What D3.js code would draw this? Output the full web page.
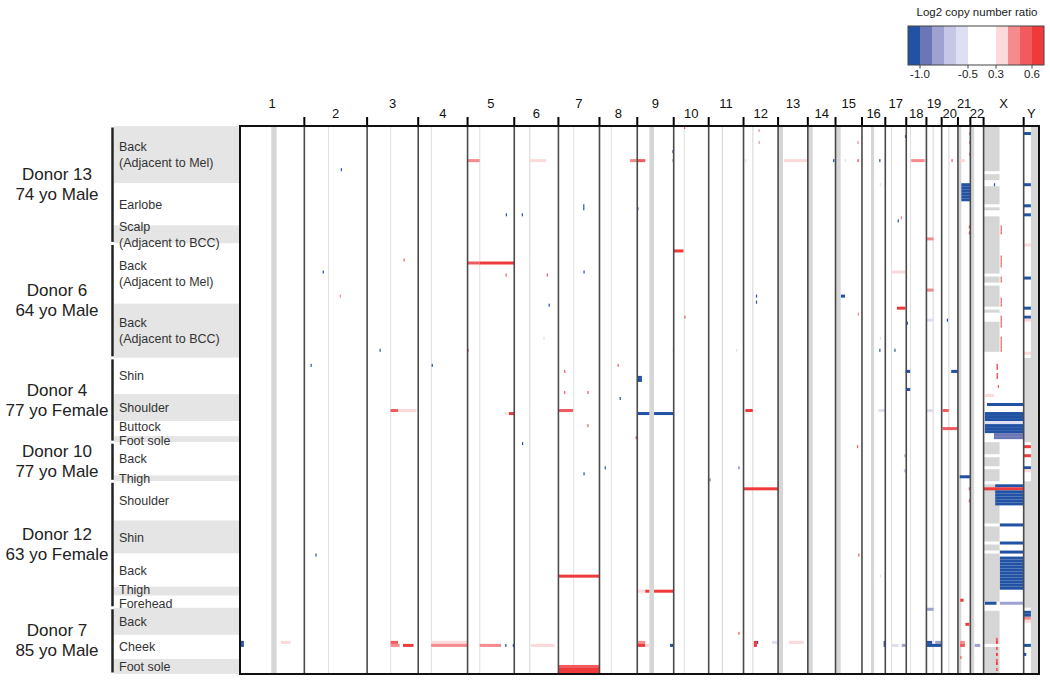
<!DOCTYPE html>
<html>
<head>
<meta charset="utf-8">
<script src="https://cdn.jsdelivr.net/npm/d3@7"></script>
<style>
  body { margin: 0; background: #fff; }
  svg { display: block; font-family: "Liberation Sans", Arial, sans-serif; }
</style>
</head>
<body>
<div id="chart"></div>
<script>
// chromosomes and their lengths (Mb)
var chromNames = ["1", "2", "3", "4", "5", "6", "7", "8", "9", "10", "11", "12",
    "13", "14", "15", "16", "17", "18", "19", "20", "21", "22", "X", "Y"];
var chromLengths = [249.3, 243.2, 198.0, 191.2, 180.9, 171.1, 159.1, 146.4, 141.2, 135.5, 135.0, 133.9,
    115.2, 107.3, 102.5, 90.4, 81.2, 78.1, 59.1, 63.0, 48.1, 51.3, 155.3, 59.4];

// donors and sampled sites (number of samples per site)
var donors = ["Donor 13", "Donor 6", "Donor 4", "Donor 10", "Donor 12", "Donor 7"];
var donorInfo = ["74 yo Male", "64 yo Male", "77 yo Female", "77 yo Male", "63 yo Female", "85 yo Male"];
var tissueLabels = ["Back|(Adjacent to Mel)", "Earlobe", "Scalp|(Adjacent to BCC)",
    "Back|(Adjacent to Mel)", "Back|(Adjacent to BCC)",
    "Shin", "Shoulder", "Buttock", "Foot sole",
    "Back", "Thigh",
    "Shoulder", "Shin", "Back", "Thigh", "Forehead",
    "Back", "Cheek", "Foot sole"];
var tissueDonor = [0, 0, 0, 1, 1, 2, 2, 2, 2, 3, 3, 4, 4, 4, 4, 4, 5, 5, 5];
var tissueSamples = [19, 14, 6, 20, 18, 12, 9, 5, 2, 11, 2, 13, 11, 11, 3, 4, 9, 8, 5];

// legend classes
var legendBreaks = [-1.0, -0.875, -0.75, -0.625, -0.5, 0.3, 0.4, 0.5, 0.6];
var legendColors = ["#2152a3", "#6a76b5", "#9fa2d0", "#c6c7e4", "#dedff0",
    "#ffffff", "#fcd9da", "#f58b8d", "#f15b5e", "#ee3a3b"];
var legendTicks = [-1.0, -0.5, 0.3, 0.6];
var legendTickLabels = ["-1.0", "-0.5", "0.3", "0.6"];

// regions without data in every sample: [chrom, start, end]
var naRegions = [["1", 121, 142], ["2", 92, 95], ["3", 90, 93], ["4", 49, 52], ["5", 46, 49],
    ["6", 58, 62], ["7", 58, 61], ["8", 44, 47], ["9", 47, 65], ["10", 39, 42], ["11", 51, 55],
    ["12", 34, 38], ["13", 0, 19], ["14", 0, 19], ["15", 0, 20], ["16", 35, 47], ["17", 22, 25],
    ["18", 15, 18], ["19", 24, 28], ["20", 26, 30], ["21", 0, 13], ["22", 0, 15], ["Y", 28, 59.4]];

// samples (first, last) with no data on Xp
var xMissingRows = [[0, 14], [16, 17], [20, 25], [27, 27], [30, 48], [50, 51], [53, 59], [61, 61],
    [65, 74], [105, 108], [110, 112], [114, 117], [119, 131], [133, 137], [139, 140], [142, 157],
    [161, 171], [173, 181]];

// copy number segments: [sample, chrom, start Mb, end Mb, log2 ratio]
var segments = [
    // donor 13, back
    [0, "10", 40, 43, 0.5], [1, "12", 58, 61, 0.45], [2, "21", 44, 48, 0.5],
    [3, "17", 76, 81.2, -1.1], [5, "12", 58, 61, 0.45], [5, "15", 85, 88, 0.45],
    [5, "21", 44, 48, 0.5], [8, "9", 136, 141.2, -1.1], [9, "21", 44, 48, 0.5],
    [11, "5", 0, 47, 0.42], [11, "6", 60, 123, 0.32], [11, "8", 118, 146.4, 0.45],
    [11, "9", 0, 31, 0.5], [11, "9", 137, 141.2, -1.1], [11, "12", 6, 10, -0.6],
    [11, "13", 22, 112, 0.32], [11, "14", 98, 103, -1.05], [11, "15", 36, 41, -0.6],
    [11, "15", 85, 89, 0.6], [11, "16", 67, 71, -1.05], [11, "18", 19, 71, 0.45],
    [11, "18", 76, 78.1, -1.1], [11, "20", 38, 42, 0.5], [11, "21", 9, 27, 0.35],
    [14, "2", 141, 143, -1.05],
    // donor 13, earlobe
    [19, "21", 13, 48.1, -1.1], [20, "21", 13, 48.1, -1.1], [21, "21", 13, 48.1, -1.1],
    [22, "21", 13, 48.1, -1.1], [23, "21", 13, 48.1, -1.1], [24, "21", 13, 48.1, -1.1],
    [19, "16", 69, 71, -0.6], [19, "X", 40, 43, -1.05], [26, "7", 96, 99, -1.05],
    [27, "7", 96, 99, -1.05], [27, "9", 0, 2, -1.05], [29, "5", 148, 151, -1.05],
    [29, "6", 29, 32, -1.05], [30, "17", 60, 63, 0.45], [31, "17", 48, 50, -1.05],
    // donor 13, scalp
    [33, "21", 42, 47, 0.5], [35, "21", 42, 47, 0.5], [37, "19", 2, 28, 0.45],
    // donor 6, back (Mel)
    [41, "10", 0, 38, 0.65], [44, "3", 141, 143, 0.5], [45, "5", 0, 47, 0.55],
    [45, "5", 47, 180.9, 0.65], [48, "2", 71, 73, -1.05], [48, "7", 97, 99, -1.05],
    [48, "17", 26, 78, 0.33], [49, "5", 147, 150, 0.5], [49, "6", 126, 128, 0.5],
    [54, "19", 2, 28, 0.45], [56, "2", 137, 140, 0.45], [56, "15", 21, 37, -1.1],
    [56, "12", 48, 50, -1.05], [58, "12", 48, 50, -1.05],
    // donor 6, back (BCC)
    [59, "6", 133, 135, -1.05], [60, "17", 45, 78, 0.65], [62, "15", 86, 88, 0.45],
    [63, "10", 41, 43, 0.5], [64, "19", 2, 28, -0.6], [64, "20", 20, 22, -1.1],
    [65, "18", 2, 4, -1.05], [70, "6", 113, 115, -0.6], [70, "16", 69, 71, -0.6],
    [74, "3", 48, 50, -1.05], [74, "5", 0, 2, 0.55], [74, "9", 138, 141.2, 0.5],
    [74, "11", 106, 108, -0.6], [74, "16", 67, 69, -1.05], [74, "17", 35, 37, -1.05],
    // donor 4, shin
    [79, "2", 24, 26, -1.05], [79, "4", 52, 54, -1.05], [79, "8", 70, 73, 0.5],
    [81, "7", 22, 24, 0.5], [81, "17", 79, 81.2, -1.1], [81, "18", 0, 15, -1.1],
    [81, "20", 37, 63, -1.1], [83, "9", 0, 18, -1.1], [84, "9", 0, 18, -1.1],
    [87, "18", 0, 15, -1.1], [88, "7", 22, 24, 0.5], [88, "7", 112, 114, 0.5],
    [90, "8", 78, 80, -1.05],
    // donor 4, shoulder / buttock / foot sole
    [89, "X", 5, 40, 0.35], [92, "X", 13, 155.3, -1.1],
    [94, "3", 91, 120, 0.5], [94, "3", 120, 191, 0.32], [94, "7", 0, 57, 0.5],
    [94, "12", 7, 36, 0.65], [94, "16", 64, 90.4, -0.6], [94, "19", 2, 28, -0.6],
    [94, "20", 4, 27, 0.55], [95, "5", 143, 151, 0.35], [95, "5", 160, 180.9, 0.65],
    [95, "9", 0, 47, -1.1], [95, "9", 65, 141.2, -1.1],
    [95, "X", 5, 155.3, -1.1], [96, "X", 5, 155.3, -1.1], [97, "X", 5, 155.3, -1.1],
    [98, "X", 5, 155.3, -0.6], [99, "X", 5, 155.3, -1.1], [100, "X", 5, 155.3, -1.1],
    [101, "X", 5, 155.3, -1.1], [102, "X", 40, 155.3, -0.9], [103, "X", 40, 155.3, -0.9],
    [99, "7", 112, 114, 0.5], [100, "20", 4, 63, 0.55], [103, "8", 140, 146.4, 0.5],
    // donor 10
    [105, "6", 30, 32, -1.05], [106, "15", 83, 85, 0.5], [109, "17", 72, 81, -0.75],
    [113, "8", 20, 22, -1.05], [113, "11", 115, 117, -0.9], [114, "17", 72, 81, -0.75],
    [115, "7", 97, 99, -1.05], [116, "21", 7, 48.1, -1.1], [117, "11", 3, 5, -0.9],
    // donor 12
    [119, "X", 45, 155.3, -1.1], [120, "12", 0, 133.9, 0.65], [120, "X", 0, 155.3, 0.65],
    [120, "21", 42, 48.1, 0.5], [121, "X", 45, 155.3, -1.1], [122, "X", 45, 155.3, -1.1],
    [123, "X", 45, 155.3, -1.1], [124, "X", 45, 155.3, -1.1], [125, "X", 45, 155.3, -1.1],
    [124, "21", 42, 45, 0.5], [132, "X", 63, 155.3, -1.1], [138, "X", 63, 155.3, -1.1],
    [141, "X", 63, 155.3, -1.1], [142, "2", 43, 45, -1.05], [142, "15", 88, 90, 0.5],
    [143, "X", 63, 155.3, -1.1], [144, "X", 63, 155.3, -1.1], [145, "X", 63, 155.3, -1.1],
    [146, "X", 63, 155.3, -1.1], [147, "X", 63, 155.3, -1.1], [148, "X", 63, 155.3, -1.1],
    [149, "X", 63, 155.3, -1.1], [150, "X", 63, 155.3, -1.1], [151, "X", 63, 155.3, -1.1],
    [152, "X", 63, 155.3, -1.1], [153, "X", 63, 155.3, -1.1],
    [149, "7", 0, 159.1, 0.65], [149, "16", 69, 71, -0.6],
    [154, "9", 0, 31, 0.35], [154, "9", 31, 47, 0.6], [154, "9", 65, 141.2, 0.65],
    [157, "21", 9, 22, 0.6], [158, "X", 5, 50, -1.1], [158, "X", 63, 155.3, -0.8],
    // donor 7, back
    [160, "19", 0, 28, -0.8], [165, "21", 29, 44, 0.6], [168, "11", 115, 117, 0.5],
    // donor 7, cheek
    [171, "1", 0, 15, -1.05], [171, "1", 158, 196, 0.33], [171, "3", 91, 120, 0.5],
    [171, "4", 50, 191.2, 0.33], [171, "9", 0, 31, 0.4], [171, "12", 40, 52, 0.65],
    [171, "12", 52, 55, -1.1], [171, "12", 110, 130, -0.55], [171, "13", 41, 99, 0.33],
    [171, "16", 84, 90.4, -1.1], [171, "19", 0, 22, -1.1], [171, "19", 34, 59.1, -0.8],
    [171, "21", 8, 27, 0.45],
    [172, "1", 0, 15, -1.1], [172, "3", 91, 126, 0.45], [172, "3", 139, 180, 0.6],
    [172, "4", 50, 191.2, 0.42], [172, "5", 47, 130, 0.42], [172, "5", 146, 149, -1.05],
    [172, "5", 175, 180.9, -1.1], [172, "6", 65, 156, 0.31], [172, "9", 0, 31, 0.6],
    [172, "9", 31, 47, 0.35], [172, "9", 127, 141.2, -1.1], [172, "12", 40, 52, 0.65],
    [172, "16", 84, 90.4, -1.1], [172, "17", 26, 52, -0.55], [172, "17", 64, 79, -0.8],
    [172, "19", 0, 59.1, -1.1], [172, "21", 8, 27, 0.5], [172, "22", 17, 38, -0.8],
    [176, "21", 9, 12, 0.55],
    // donor 7, foot sole
    [179, "7", 0, 159.1, 0.55], [180, "7", 0, 159.1, 0.65], [181, "7", 0, 159.1, 0.65],
    // small gains on Xq
    [33, "X", 66, 70, 0.55], [34, "X", 66, 70, 0.55], [35, "X", 66, 70, 0.55],
    [43, "X", 66, 70, 0.55], [44, "X", 66, 70, 0.55], [45, "X", 66, 70, 0.55],
    [46, "X", 66, 70, 0.55], [50, "X", 66, 70, 0.55], [51, "X", 66, 70, 0.55],
    [57, "X", 66, 70, 0.55], [58, "X", 66, 70, 0.55], [59, "X", 66, 70, 0.55],
    [63, "X", 66, 70, 0.55], [64, "X", 66, 70, 0.55], [65, "X", 66, 70, 0.55],
    [66, "X", 66, 70, 0.55], [70, "X", 66, 70, 0.55], [71, "X", 66, 70, 0.55],
    [72, "X", 66, 70, 0.55], [73, "X", 66, 70, 0.55], [74, "X", 66, 70, 0.55],
    [79, "X", 50, 56, 0.55], [80, "X", 50, 56, 0.55], [82, "X", 50, 56, 0.55],
    [83, "X", 50, 56, 0.55], [86, "X", 55, 60, 0.55],
    [170, "X", 48, 55, 0.55], [171, "X", 48, 55, 0.6], [173, "X", 48, 55, 0.55],
    [175, "X", 48, 55, 0.6], [177, "X", 48, 55, 0.55], [178, "X", 48, 55, 0.6],
    [180, "X", 48, 55, 0.55],
    // Y chromosome
    [2, "Y", 0, 28, -1.1], [19, "Y", 0, 28, -1.1], [26, "Y", 0, 28, -1.1], [29, "Y", 0, 28, -1.1],
    [39, "Y", 0, 28, 0.35], [50, "Y", 0, 28, -1.1], [60, "Y", 0, 28, -1.1], [63, "Y", 0, 28, -1.1],
    [64, "Y", 0, 28, 0.35], [75, "Y", 0, 28, 0.35], [106, "Y", 0, 28, 0.65],
    [109, "Y", 0, 28, 0.65], [113, "Y", 0, 28, -1.1], [114, "Y", 0, 28, 0.35],
    [161, "Y", 0, 28, -1.1], [162, "Y", 0, 28, -1.1], [163, "Y", 0, 28, 0.4],
    [164, "Y", 0, 28, 0.35], [172, "Y", 0, 28, -1.1], [175, "Y", 0, 10, -1.05]
];

var width = 1050, height = 680;
var heat = { left: 240, right: 1039, top: 126, bottom: 674 };

var svg = d3.select("#chart")
    .append("svg")
    .attr("width", width)
    .attr("height", height);

// genome position -> x
var chromStart = [0];
chromLengths.forEach(function (len, i) { chromStart.push(chromStart[i] + len) });
var x = d3.scaleLinear()
    .domain([0, chromStart[chromStart.length - 1]])
    .range([heat.left, heat.right]);
function gx(chrom, mb) {
    return x(chromStart[chromNames.indexOf(chrom)] + mb);
}

// sample -> y
var nSamples = d3.sum(tissueSamples);
var y = d3.scaleBand()
    .domain(d3.range(nSamples))
    .range([heat.top, heat.bottom]);

var color = d3.scaleThreshold()
    .domain(legendBreaks)
    .range(legendColors);

var tissues = tissueLabels.map(function (label, i) {
    return { label: label, donor: tissueDonor[i], start: d3.sum(tissueSamples.slice(0, i)), n: tissueSamples[i] };
});
var donorGroups = donors.map(function (name, i) {
    var t = tissues.filter(function (d) { return d.donor == i });
    var start = t[0].start, end = t[t.length - 1].start + t[t.length - 1].n;
    return { name: name, info: donorInfo[i], start: start, end: end, female: donorInfo[i].indexOf("Female") >= 0 };
});

// ---- left labels ----
svg.selectAll(".tband")
    .data(tissues)
    .enter()
    .append("rect")
    .attr("x", 114)
    .attr("y", function (d) { return y(d.start) })
    .attr("width", heat.left - 114)
    .attr("height", function (d) { return d.n * y.step() })
    .attr("fill", function (d, i) { return i % 2 == 0 ? "#e5e5e5" : "#ffffff" });

// text baselines, centred in each band, then pushed apart where thin bands collide
var lineGap = 15.5, minGap = 14;
tissues.forEach(function (d) {
    d.lines = d.label.split("|");
    var c = y(d.start) + d.n * y.step() / 2;
    d.first = c + 4.5 - (d.lines.length - 1) * lineGap / 2;
});
for (var k = 0; k < 4; k++) {
    for (var i = 1; i < tissues.length; i++) {
        var prev = tissues[i - 1];
        var gap = tissues[i].first - (prev.first + (prev.lines.length - 1) * lineGap);
        if (gap < minGap) {
            prev.first -= (minGap - gap) / 2;
            tissues[i].first += (minGap - gap) / 2;
        }
    }
}

svg.selectAll(".tlabel")
    .data(tissues)
    .enter()
    .append("text")
    .attr("font-size", "12.5px")
    .attr("fill", "#333")
    .each(function (d) {
        var t = d3.select(this);
        d.lines.forEach(function (line, j) {
            t.append("tspan")
                .attr("x", 119)
                .attr("y", d.first + j * lineGap)
                .text(line);
        });
    });

svg.selectAll(".dbar")
    .data(donorGroups)
    .enter()
    .append("line")
    .attr("x1", 112.5).attr("x2", 112.5)
    .attr("y1", function (d) { return y(d.start) + 1.5 })
    .attr("y2", function (d) { return y(d.start) + (d.end - d.start) * y.step() - 1.5 })
    .attr("stroke", "#222")
    .attr("stroke-width", 2.5);

var dText = svg.selectAll(".dlabel")
    .data(donorGroups)
    .enter()
    .append("text")
    .attr("text-anchor", "middle")
    .attr("font-size", "17px")
    .attr("fill", "#222");
dText.append("tspan")
    .attr("x", 57)
    .attr("y", function (d) { return y(d.start) + (d.end - d.start) * y.step() / 2 - 4.5 })
    .text(function (d) { return d.name });
dText.append("tspan")
    .attr("x", 57)
    .attr("y", function (d) { return y(d.start) + (d.end - d.start) * y.step() / 2 + 15.5 })
    .text(function (d) { return d.info });

// ---- heatmap ----
svg.append("rect")
    .attr("x", heat.left).attr("y", heat.top)
    .attr("width", heat.right - heat.left).attr("height", heat.bottom - heat.top)
    .attr("fill", "#fff");

svg.selectAll(".na")
    .data(naRegions)
    .enter()
    .append("rect")
    .attr("x", function (d) { return gx(d[0], d[1]) })
    .attr("y", heat.top)
    .attr("width", function (d) { return gx(d[0], d[2]) - gx(d[0], d[1]) })
    .attr("height", heat.bottom - heat.top)
    .attr("fill", "#d6d6d6");

svg.selectAll(".xna")
    .data(xMissingRows)
    .enter()
    .append("rect")
    .attr("x", gx("X", 0))
    .attr("y", function (d) { return y(d[0]) })
    .attr("width", gx("X", 62) - gx("X", 0))
    .attr("height", function (d) { return (d[1] - d[0] + 1) * y.step() })
    .attr("fill", "#d6d6d6");

svg.selectAll(".yna")
    .data(donorGroups.filter(function (d) { return d.female }))
    .enter()
    .append("rect")
    .attr("x", gx("Y", 0))
    .attr("y", function (d) { return y(d.start) })
    .attr("width", heat.right - gx("Y", 0))
    .attr("height", function (d) { return (d.end - d.start) * y.step() })
    .attr("fill", "#d6d6d6");

svg.selectAll(".seg")
    .data(segments)
    .enter()
    .append("rect")
    .attr("x", function (d) { return gx(d[1], d[2]) })
    .attr("y", function (d) { return y(d[0]) })
    .attr("width", function (d) { return Math.max(1.2, gx(d[1], d[3]) - gx(d[1], d[2])) })
    .attr("height", y.bandwidth())
    .attr("fill", function (d) { return color(d[4]) });

// chromosome boundaries
var bounds = chromStart.slice(1, chromNames.length);
svg.selectAll(".bound")
    .data(bounds)
    .enter()
    .append("line")
    .attr("x1", function (d) { return x(d) })
    .attr("x2", function (d) { return x(d) })
    .attr("y1", heat.top).attr("y2", heat.bottom)
    .attr("stroke", "#4a4a4a")
    .attr("stroke-width", 1.6);

svg.selectAll(".tick")
    .data(bounds)
    .enter()
    .append("line")
    .attr("x1", function (d) { return x(d) })
    .attr("x2", function (d) { return x(d) })
    .attr("y1", 117).attr("y2", heat.top)
    .attr("stroke", "#000")
    .attr("stroke-width", 2);

svg.append("rect")
    .attr("x", heat.left).attr("y", heat.top)
    .attr("width", heat.right - heat.left).attr("height", heat.bottom - heat.top)
    .attr("fill", "none")
    .attr("stroke", "#111")
    .attr("stroke-width", 2);

svg.selectAll(".clabel")
    .data(chromNames)
    .enter()
    .append("text")
    .attr("x", function (d, i) { return x(chromStart[i] + chromLengths[i] / 2) })
    .attr("y", function (d, i) { return i % 2 == 0 ? 108 : 118 })
    .attr("text-anchor", "middle")
    .attr("font-size", "13px")
    .attr("fill", "#111")
    .text(function (d) { return d });

// ---- legend ----
var lx = d3.scaleLinear()
    .domain([-1.125, -0.5, 0.3, 0.7])
    .range([908, 968, 996, 1044]);
var edges = [-1.125].concat(legendBreaks).concat([0.7]);

svg.append("text")
    .attr("x", 977).attr("y", 16)
    .attr("text-anchor", "middle")
    .attr("font-size", "11.5px")
    .attr("fill", "#222")
    .text("Log2 copy number ratio");

svg.selectAll(".lcell")
    .data(legendColors)
    .enter()
    .append("rect")
    .attr("x", function (d, i) { return lx(edges[i]) })
    .attr("y", 26)
    .attr("width", function (d, i) { return lx(edges[i + 1]) - lx(edges[i]) })
    .attr("height", 39)
    .attr("fill", function (d) { return d });

svg.append("rect")
    .attr("x", 908).attr("y", 26)
    .attr("width", 136).attr("height", 39)
    .attr("fill", "none")
    .attr("stroke", "#444")
    .attr("stroke-width", 1);

svg.selectAll(".ltick")
    .data(legendTicks)
    .enter()
    .append("line")
    .attr("x1", function (d) { return lx(d) })
    .attr("x2", function (d) { return lx(d) })
    .attr("y1", 65).attr("y2", 68.5)
    .attr("stroke", "#444");

svg.selectAll(".llabel")
    .data(legendTicks)
    .enter()
    .append("text")
    .attr("x", function (d) { return lx(d) })
    .attr("y", 78)
    .attr("text-anchor", "middle")
    .attr("font-size", "11.5px")
    .attr("fill", "#222")
    .text(function (d, i) { return legendTickLabels[i] });
</script>
</body>
</html>
